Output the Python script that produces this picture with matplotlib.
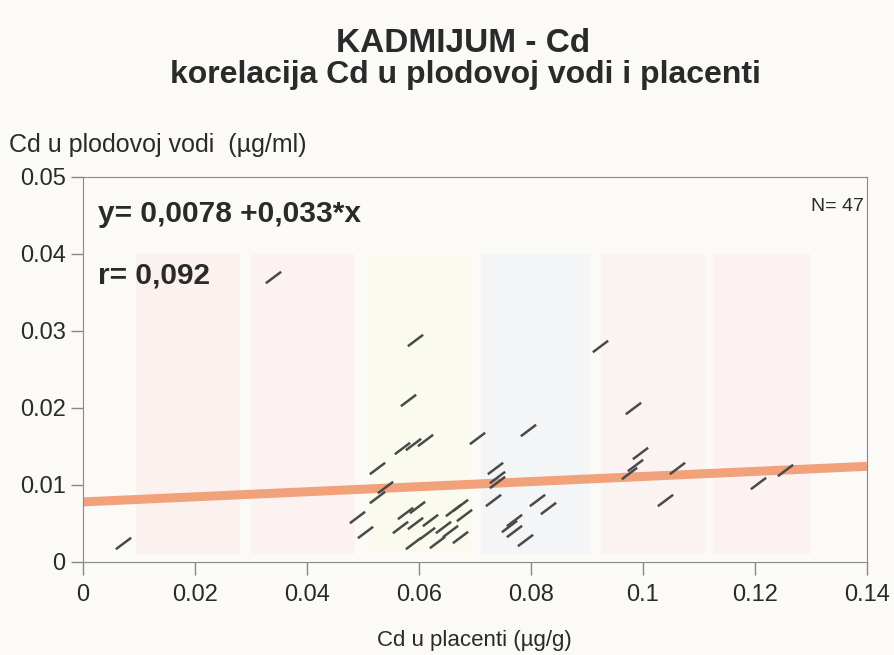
import matplotlib.pyplot as plt
import numpy as np
from matplotlib.path import Path

plt.rcParams['font.family'] = ['Liberation Sans', 'DejaVu Sans']

# Cd in placenta (ug/g) and in amniotic fluid (ug/ml)
placenta = [0.0071, 0.0339, 0.0593, 0.0580, 0.0570, 0.0590, 0.0610, 0.0525,
            0.0539, 0.0525, 0.0490, 0.0504, 0.0575, 0.0596, 0.0566, 0.0593,
            0.0620, 0.0614, 0.0590, 0.0643, 0.0632, 0.0660, 0.0673, 0.0680,
            0.0673, 0.0703, 0.0736, 0.0740, 0.0740, 0.0732, 0.0795, 0.0810,
            0.0830, 0.0770, 0.0760, 0.0770, 0.0790, 0.0923, 0.0982, 0.0995,
            0.0986, 0.0975, 0.1060, 0.1040, 0.1205, 0.1254, 0.0655]
voda = [0.0025, 0.0370, 0.0288, 0.0210, 0.0148, 0.0153, 0.0158, 0.0122,
        0.0097, 0.0084, 0.0058, 0.0039, 0.0064, 0.0071, 0.0045, 0.0050,
        0.0055, 0.0038, 0.0025, 0.0045, 0.0026, 0.0068, 0.0074, 0.0061,
        0.0032, 0.0161, 0.0122, 0.0110, 0.0104, 0.0080, 0.0171, 0.0080,
        0.0070, 0.0055, 0.0047, 0.0040, 0.0029, 0.0280, 0.0200, 0.0142,
        0.0126, 0.0115, 0.0122, 0.0080, 0.0103, 0.0120, 0.0040]

intercept, slope = 0.0078, 0.033
xticks = [0, 0.02, 0.04, 0.06, 0.08, 0.1, 0.12, 0.14]
xticklabels = ['0', '0.02', '0.04', '0.06', '0.08', '0.1', '0.12', '0.14']
yticks = [0, 0.01, 0.02, 0.03, 0.04, 0.05]
yticklabels = ['0', '0.01', '0.02', '0.03', '0.04', '0.05']

# faint coloured bands showing through the scanned page
bands = [(0.0095, 0.028, '#fbf2f0'), (0.0300, 0.0485, '#fbf2f1'),
         (0.0510, 0.0690, '#fbfaee'), (0.0710, 0.0905, '#f3f5f7'),
         (0.0925, 0.1110, '#fbf3f2'), (0.1125, 0.1300, '#fbf2f1')]

fig = plt.figure(figsize=(8.95, 6.55), dpi=100, facecolor='#fbfaf7')
ax = fig.add_axes([0.0927, 0.142, 0.876, 0.588])
ax.set_facecolor('#fbfaf7')

for x0, x1, c in bands:
    ax.fill_between([x0, x1], 0.001, 0.040, color=c, lw=0, zorder=0)

x = np.linspace(0, 0.14, 50)
ax.plot(x, intercept + slope * x, color='#f2a27a', lw=6.5, zorder=2, solid_capstyle='butt')

stroke = Path([(-1, -0.75), (1, 0.75)], [Path.MOVETO, Path.LINETO])
ax.plot(placenta, voda, ls='none', marker=stroke, ms=11, mew=1.8,
        color='#4a4a4a', zorder=3)

ax.set_xlim(0, 0.14)
ax.set_ylim(0, 0.05)
ax.set_xticks(xticks)
ax.set_xticklabels(xticklabels)
ax.set_yticks(yticks)
ax.set_yticklabels(yticklabels)
ax.tick_params(colors='#888888', labelcolor='#2a2a2a', labelsize=17, length=9, width=1)
ax.tick_params(axis='x', pad=7)
for s in ax.spines.values():
    s.set_color('#8a8a8a')

ax.text(0.0027, 0.0452, 'y= 0,0078 +0,033*x', fontsize=21.5, fontweight='bold',
        color='#2a2a2a', va='center')
ax.text(0.0027, 0.0372, 'r= 0,092', fontsize=21.5, fontweight='bold',
        color='#2a2a2a', va='center')
ax.text(0.1395, 0.0462, 'N= 47', fontsize=14, color='#2a2a2a', ha='right', va='center')

fig.text(0.517, 0.933, 'KADMIJUM - Cd', ha='center', va='center', fontsize=24,
         fontweight='bold', color='#2a2a2a')
fig.text(0.52, 0.886, 'korelacija Cd u plodovoj vodi i placenti', ha='center', va='center',
         fontsize=23, fontweight='bold', color='#2a2a2a')
fig.text(0.01, 0.778, 'Cd u plodovoj vodi  (\u00b5g/ml)', ha='left', va='center',
         fontsize=18, color='#2a2a2a')
fig.text(0.53, 0.022, 'Cd u placenti (\u00b5g/g)', ha='center', va='center',
         fontsize=16, color='#2a2a2a')

fig.savefig('out.png', dpi=100, facecolor=fig.get_facecolor())
